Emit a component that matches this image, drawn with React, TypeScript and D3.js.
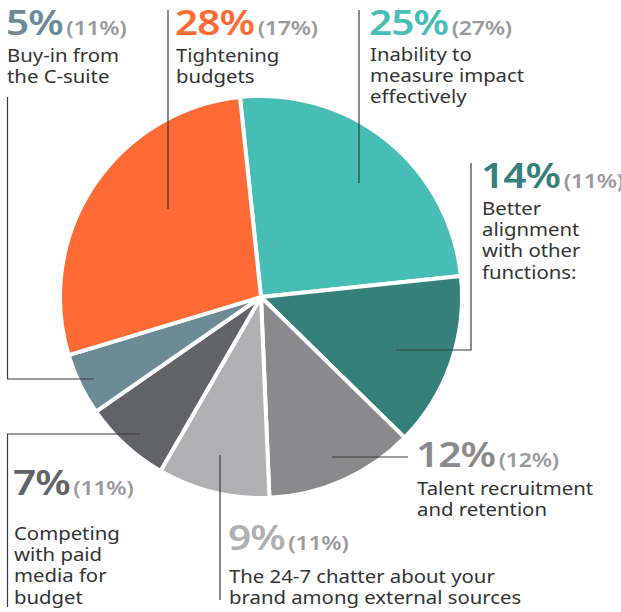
import React from "react";
import * as d3 from "d3";

const categories = [
  "Inability to measure impact effectively",
  "Better alignment with other functions:",
  "Talent recruitment and retention",
  "The 24-7 chatter about your brand among external sources",
  "Competing with paid media for budget",
  "Buy-in from the C-suite",
  "Tightening budgets",
];
const values = [25, 14, 12, 9, 7, 5, 28];
const previous = [27, 11, 12, 11, 11, 11, 17];
const colors = ["#47BEB5", "#36807C", "#8A8A8C", "#B0B0B2", "#626367", "#6B8B97", "#FF6B35"];
const labelLines = [
  ["Inability to", "measure impact", "effectively"],
  ["Better", "alignment", "with other", "functions:"],
  ["Talent recruitment", "and retention"],
  ["The 24-7 chatter about your", "brand among external sources"],
  ["Competing", "with paid", "media for", "budget"],
  ["Buy-in from", "the C-suite"],
  ["Tightening", "budgets"],
];

// annotation layout: big-number baseline position, first body baseline, leader polyline
const layout = [
  { x: 369, y: 35, bodyY: 61, leader: [[359, 10], [359, 183]] },
  { x: 481, y: 188, bodyY: 215, leader: [[471, 163], [471, 350], [396, 350]] },
  { x: 416, y: 467, bodyY: 495, leader: [[408, 457], [332, 457]] },
  { x: 228, y: 550, bodyY: 583, leader: [[220, 455], [220, 600]] },
  { x: 13, y: 495, bodyY: 540, leader: [[140, 434], [7.5, 434], [7.5, 607]] },
  { x: 6, y: 35, bodyY: 62, leader: [[7.5, 97], [7.5, 379], [94, 379]] },
  { x: 175, y: 35, bodyY: 62, leader: [[168, 10], [168, 209]] },
];

const W = 621;
const H = 612;
const cx = 261;
const cy = 297;
const R = 201;
const start = (-6 * Math.PI) / 180;

export default function App() {
  const pie = d3
    .pie<number>()
    .sort(null)
    .value((d) => d)
    .startAngle(start)
    .endAngle(start + 2 * Math.PI);
  const arcs = pie(values);
  const arc = d3.arc<d3.PieArcDatum<number>>().innerRadius(0).outerRadius(R);
  const font = "'Noto Sans', sans-serif";
  return (
    <svg
      width={W}
      height={H}
      style={{ position: "absolute", left: 0, top: 0, background: "#fff" }}
      fontFamily={font}
    >
      <g transform={`translate(${cx},${cy})`}>
        {arcs.map((a, i) => (
          <path key={i} d={arc(a) || ""} fill={colors[i]} stroke="#fff" strokeWidth={4} strokeLinejoin="round" />
        ))}
      </g>
      {layout.map((l, i) => (
        <g key={"l" + i}>
          <path
            d={d3.line()(l.leader as [number, number][]) || ""}
            fill="none"
            stroke="#3a3a3a"
            strokeWidth={1.2}
          />
          <text transform={`translate(${l.x},${l.y}) scale(1.16,1)`} fontWeight={600}>
            <tspan fontSize={35} fill={colors[i]} letterSpacing={-0.8}>
              {values[i]}%
            </tspan>
            <tspan fontSize={20} fill="#9A9A9C" dx={3} letterSpacing={-0.3}>
              ({previous[i]}%)
            </tspan>
          </text>
          {labelLines[i].map((t, j) => (
            <text
              key={j}
              transform={`translate(${l.x + 1},${l.bodyY + j * 21.2}) scale(1.13,1)`}
              fontSize={18}
              fill="#333"
            >
              {t}
            </text>
          ))}
        </g>
      ))}
    </svg>
  );
}
